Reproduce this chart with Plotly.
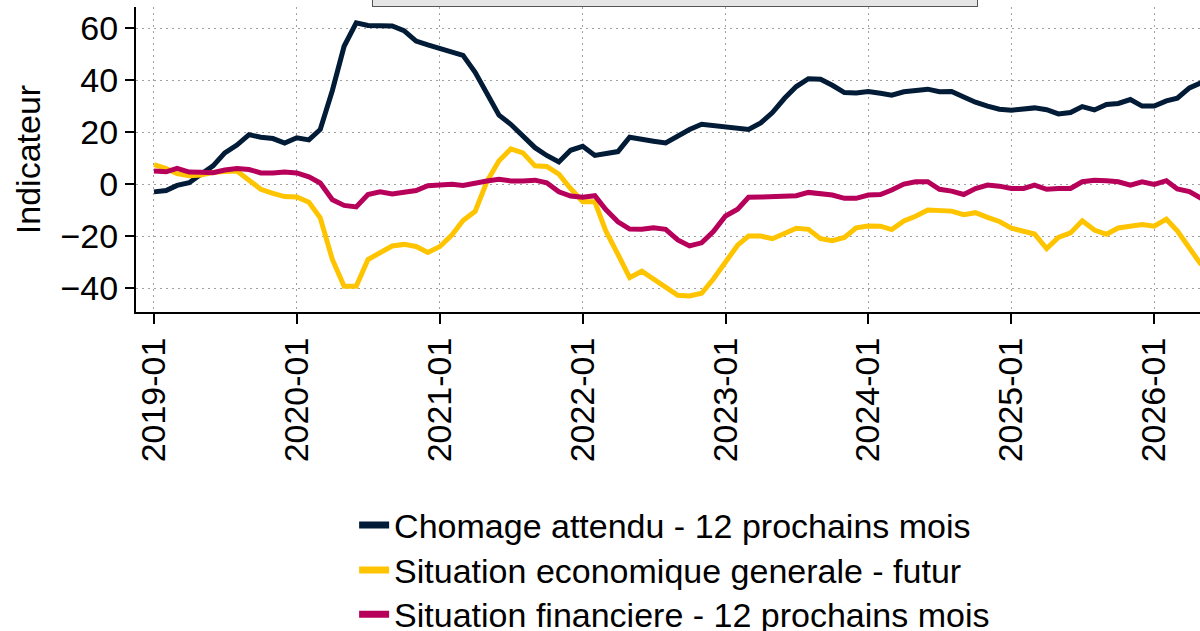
import pandas as pd
import plotly.graph_objects as go

dates = pd.date_range("2019-01-01", periods=89, freq="MS")

chomage = [-3.0, -2.5, -0.5, 0.5, 3.8, 7, 12, 15, 19, 18, 17.5, 15.8, 17.8, 17, 21, 36, 53, 62, 61, 61,
           60.8, 59, 55, 53.5, 52.2, 51, 49.5, 43, 35, 26.5, 23, 18.5, 14, 11, 8.5, 13, 14.5, 11, 11.5, 12.5,
           18, 17, 16.5, 15.8, 18.5, 21, 23, 22.6, 22, 21.6, 21, 23.5, 27.5, 33, 37.5, 40.5, 40.3, 38, 35.2, 35,
           35.6, 34.9, 34.2, 35.5, 36.1, 36.5, 35.5, 35.6, 33.5, 31.5, 30, 28.8, 28.4, 28.7, 29.3, 28.6, 27, 27.5,
           29.8, 28.5, 30.6, 31, 32.5, 30, 30, 32, 33, 37, 39]

eco_futur = [7.5, 6, 4, 3.2, 3.5, 4.5, 4.8, 5, 1.5, -2, -3.6, -4.8, -5, -7, -13, -29, -39.3, -39.3, -29, -26.5,
             -23.8, -23.2, -24, -26.3, -24, -19.5, -14, -10.5, 1, 9, 13.5, 12, 7, 6.8, 3.8, -1.7, -6.8, -6.8, -18, -27,
             -36, -33.5, -36.5, -39.5, -42.8, -43, -42, -36.5, -30, -23.5, -20, -20, -21, -18.8, -17, -17.4, -21, -21.8, -20.5, -16.8,
             -16.1, -16.2, -17.5, -14.2, -12.4, -10, -10.4, -10.4, -11.8, -11, -12.8, -14.4, -17, -18.4, -19.2, -24.8, -20.5, -18.8,
             -14.1, -17.7, -19.3, -16.9, -16.3, -15.6, -16.2, -13.5, -18, -24.7, -31]

financiere = [5, 4.7, 6, 4.6, 4.5, 4.4, 5.4, 6, 5.6, 4.3, 4.3, 4.6, 4.3, 2.8, 0.4, -6, -8.2, -8.8, -4, -3,
              -3.8, -3.2, -2.5, -0.6, -0.4, -0.1, -0.5, 0.5, 1.2, 1.8, 1.2, 1.2, 1.5, 0.5, -3, -4.6, -5.1, -4.5, -9.8, -14.5,
              -17.3, -17.4, -16.8, -17.4, -21.5, -23.8, -22.6, -18.3, -12.3, -9.7, -5.1, -5, -4.9, -4.9, -4.5, -3.2, -3.6, -4.2, -5.5, -5.5,
              -4.2, -4, -2.3, 0, 0.9, 0.9, -2, -2.7, -4, -1.7, -0.4, -0.8, -1.7, -1.7, -0.4, -2, -1.7, -1.7,
              0.9, 1.5, 1.3, 0.9, -0.4, 0.9, -0.1, 1.3, -1.9, -2.9, -5.5]

names = ["Chomage attendu - 12 prochains mois",
         "Situation economique generale - futur",
         "Situation financiere - 12 prochains mois"]
colors = ["#021b36", "#ffc400", "#b6005a"]
series = [chomage, eco_futur, financiere]

FONT = "Liberation Sans, Arial, Helvetica, sans-serif"
FS = 34
legend_ids = ["legend", "legend2", "legend3"]
legend_y = [-0.605, -0.752, -0.897]

fig = go.Figure()
for name, col, vals, lid in zip(names, colors, series, legend_ids):
    fig.add_trace(go.Scatter(x=dates, y=vals, mode="lines", name=name,
                             line=dict(color=col, width=5), showlegend=False))
    fig.add_trace(go.Scatter(x=[None], y=[None], mode="lines", name=name, legend=lid,
                             line=dict(color=col, width=7), showlegend=True))

legend_style = dict(orientation="v", x=0.205, xanchor="left", yanchor="top",
                    font=dict(family=FONT, size=FS, color="black"),
                    bgcolor="rgba(0,0,0,0)", borderwidth=0)

fig.update_layout(
    template="none",
    width=1200, height=631,
    margin=dict(l=136, r=0, t=7, b=319, autoexpand=False),
    paper_bgcolor="white", plot_bgcolor="white",
    font=dict(family=FONT, size=FS, color="black"),
    showlegend=True,
    legend=dict(y=legend_y[0], **legend_style),
    legend2=dict(y=legend_y[1], **legend_style),
    legend3=dict(y=legend_y[2], **legend_style),
    xaxis=dict(
        type="date",
        range=["2018-11-16", "2026-04-28"],
        tick0="2019-01-01", dtick="M12", tickformat="%Y-%m",
        tickangle=-90,
        ticks="outside", ticklen=10, tickwidth=1.5, tickcolor="black",
        showline=True, linecolor="black", linewidth=2,
        showgrid=True, gridcolor="#a0a0a0", gridwidth=1, griddash="2px,4px",
        zeroline=False,
        tickfont=dict(family=FONT, size=FS, color="black"),
        automargin=False,
    ),
    yaxis=dict(
        range=[-49.2, 68.1],
        tickvals=[-40, -20, 0, 20, 40, 60],
        ticks="outside", ticklen=9, tickwidth=1.5, tickcolor="black",
        showline=True, linecolor="black", linewidth=2,
        showgrid=True, gridcolor="#a0a0a0", gridwidth=1, griddash="2px,4px",
        zeroline=False,
        tickfont=dict(family=FONT, size=FS, color="black"),
        title=dict(text="Indicateur", font=dict(family=FONT, size=FS, color="black"), standoff=10),
        automargin=False,
    ),
)

fig.add_annotation(
    text=" ", xref="paper", yref="paper", x=0.5066, y=1, xanchor="center", yanchor="bottom",
    showarrow=False, width=602, height=40, bgcolor="#e6e6e6", bordercolor="#555555", borderwidth=1,
)

fig.write_html(
    "out.html",
    config={"displayModeBar": False},
    post_script="document.documentElement.style.margin='0';document.body.style.margin='0';"
                "document.body.style.padding='0';document.body.style.overflow='hidden';",
)
